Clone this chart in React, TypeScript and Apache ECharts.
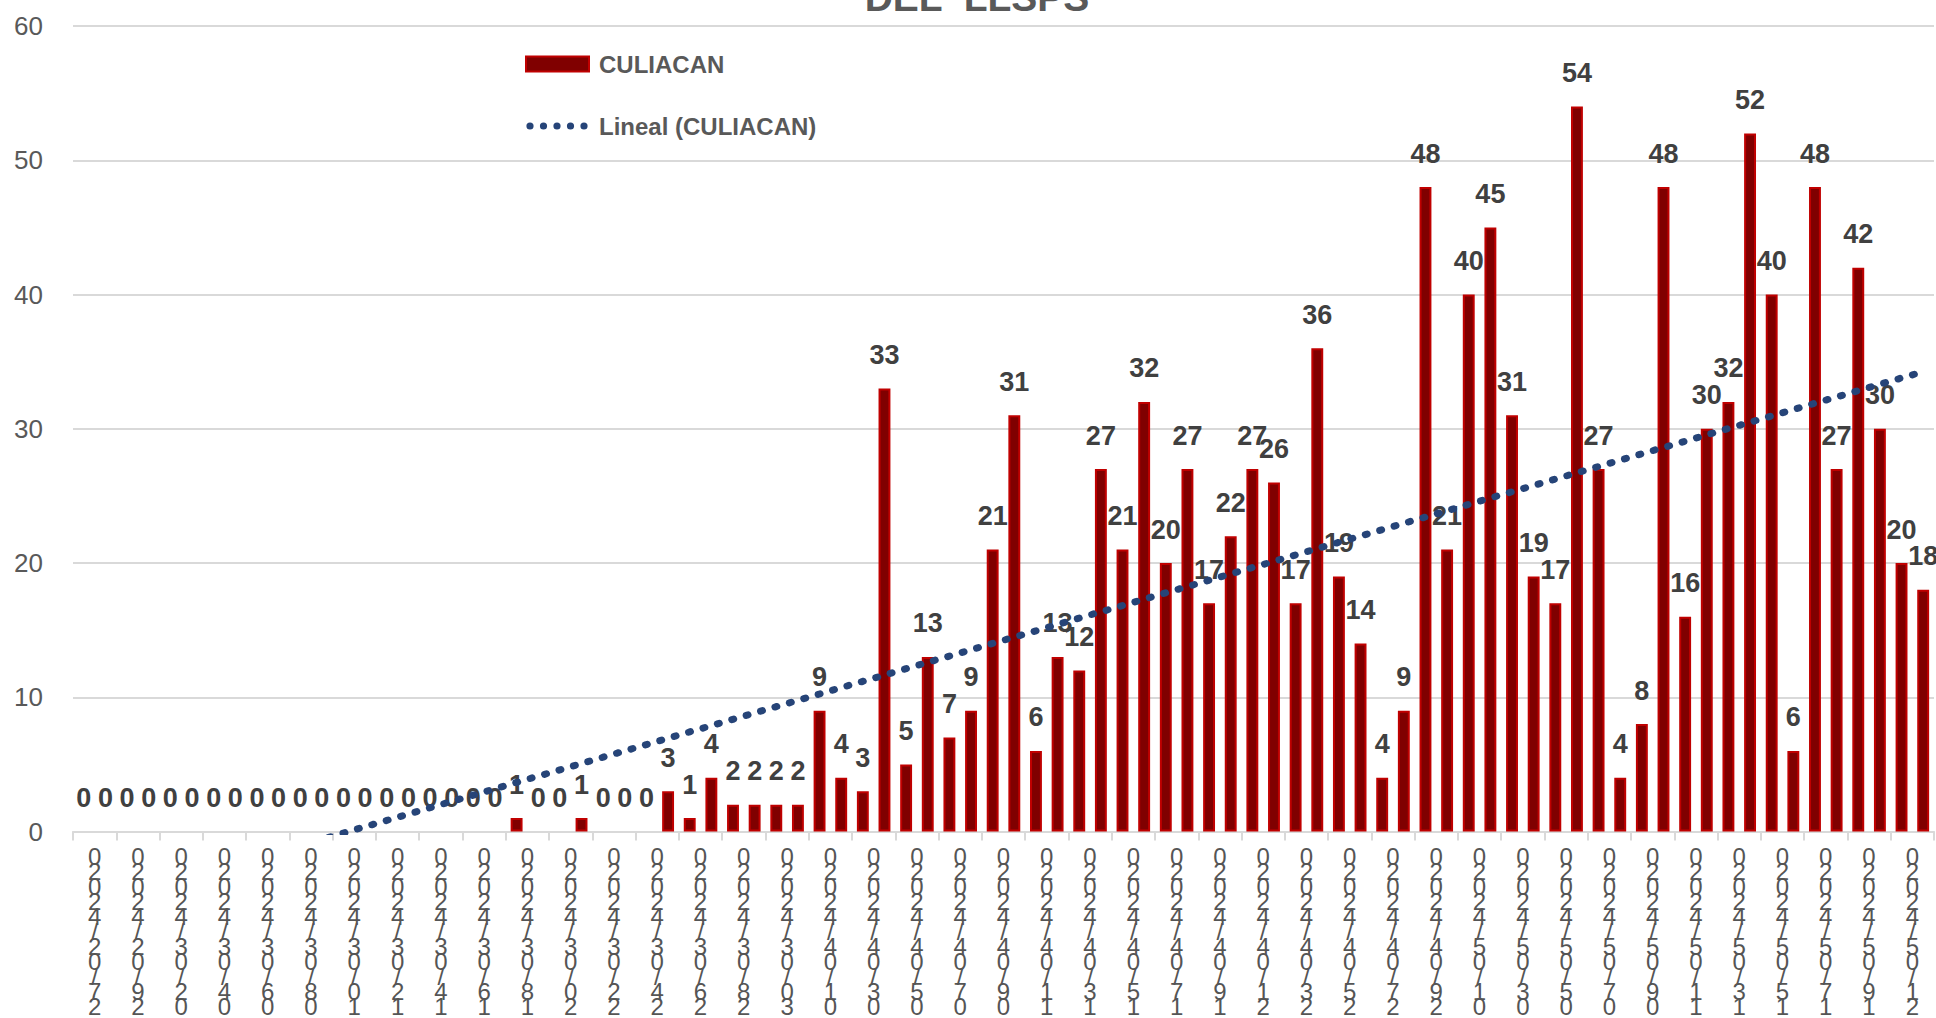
import { useEffect, useRef } from "react";
import * as echarts from "echarts";

const dates = [
  "27/02/2024", "28/02/2024", "29/02/2024",
  "01/03/2024", "02/03/2024", "03/03/2024", "04/03/2024", "05/03/2024", "06/03/2024", "07/03/2024", "08/03/2024",
  "09/03/2024", "10/03/2024", "11/03/2024", "12/03/2024", "13/03/2024", "14/03/2024", "15/03/2024", "16/03/2024",
  "17/03/2024", "18/03/2024", "19/03/2024", "20/03/2024", "21/03/2024", "22/03/2024", "23/03/2024", "24/03/2024",
  "25/03/2024", "26/03/2024", "27/03/2024", "28/03/2024", "29/03/2024", "30/03/2024", "31/03/2024",
  "01/04/2024", "02/04/2024", "03/04/2024", "04/04/2024", "05/04/2024", "06/04/2024", "07/04/2024", "08/04/2024",
  "09/04/2024", "10/04/2024", "11/04/2024", "12/04/2024", "13/04/2024", "14/04/2024", "15/04/2024", "16/04/2024",
  "17/04/2024", "18/04/2024", "19/04/2024", "20/04/2024", "21/04/2024", "22/04/2024", "23/04/2024", "24/04/2024",
  "25/04/2024", "26/04/2024", "27/04/2024", "28/04/2024", "29/04/2024", "30/04/2024",
  "01/05/2024", "02/05/2024", "03/05/2024", "04/05/2024", "05/05/2024", "06/05/2024", "07/05/2024", "08/05/2024",
  "09/05/2024", "10/05/2024", "11/05/2024", "12/05/2024", "13/05/2024", "14/05/2024", "15/05/2024", "16/05/2024",
  "17/05/2024", "18/05/2024", "19/05/2024", "20/05/2024", "21/05/2024", "22/05/2024",
];

const culiacan = [
  0, 0, 0, 0, 0, 0, 0, 0, 0, 0, 0, 0, 0, 0, 0, 0, 0, 0, 0, 0,
  1, 0, 0, 1, 0, 0, 0, 3, 1, 4, 2, 2, 2, 2, 9, 4, 3, 33, 5, 13,
  7, 9, 21, 31, 6, 13, 12, 27, 21, 32, 20, 27, 17, 22, 27, 26, 17, 36, 19, 14,
  4, 9, 48, 21, 40, 45, 31, 19, 17, 54, 27, 4, 8, 48, 16, 30, 32, 52, 40, 6,
  48, 27, 42, 30, 20, 18,
];

const seriesNames = ["CULIACAN", "Lineal (CULIACAN)"];
const titleText = "DEL  LLSPS";
const yMin = 0;
const yMax = 60;
const yInterval = 10;

// Excel-style linear trendline (least squares over x = 1..n)
function linearTrend(values: number[]): number[] {
  const n = values.length;
  let sx = 0, sy = 0;
  for (let i = 0; i < n; i++) { sx += i + 1; sy += values[i]; }
  const mx = sx / n, my = sy / n;
  let num = 0, den = 0;
  for (let i = 0; i < n; i++) {
    num += (i + 1 - mx) * (values[i] - my);
    den += (i + 1 - mx) * (i + 1 - mx);
  }
  const b = num / den;
  const a = my - b * mx;
  return values.map((_, i) => a + b * (i + 1));
}

function stackLabel(s: string): string {
  const [d, m, y] = s.split("/");
  const shown = "0" + y + "/" + m.split("").reverse().join("") + "/" + d.split("").reverse().join("");
  return shown.split("").join("\n");
}

// legend icon: five round dots in a 63 x 15 box
function dotsIcon(): string {
  const r = 3.6;
  let d = "M0 0 M63 15";
  for (let k = 0; k < 5; k++) {
    const cx = 4 + k * 13.5;
    d += ` M${cx - r} 7.5 a${r} ${r} 0 1 0 ${2 * r} 0 a${r} ${r} 0 1 0 ${-2 * r} 0 Z`;
  }
  return "path://" + d;
}

const FONT = "'Liberation Sans', Arial, sans-serif";
const BLUE = "#264478";

export default function App() {
  const ref = useRef<HTMLDivElement>(null);
  useEffect(() => {
    if (!ref.current) return;
    const chart = echarts.init(ref.current, null, { renderer: "svg" });
    const trend = linearTrend(culiacan);
    const barData = culiacan.map((v) =>
      v === 0
        ? { value: v, itemStyle: { color: "transparent", borderColor: "transparent", borderWidth: 0 } }
        : v
    );
    chart.setOption({
      animation: false,
      backgroundColor: "#ffffff",
      textStyle: { fontFamily: FONT },
      grid: { left: 73, right: 2, top: 26, bottom: 185, containLabel: false },
      graphic: [
        {
          type: "text",
          x: 977,
          y: -2.5,
          style: {
            text: titleText,
            fill: "#595959",
            font: `bold 39px ${FONT}`,
            align: "center",
            verticalAlign: "middle",
          },
        },
      ],
      legend: {
        orient: "vertical",
        left: 525,
        top: 52,
        padding: 0,
        itemWidth: 63,
        itemHeight: 15,
        itemGap: 38,
        data: [
          { name: seriesNames[0], icon: "rect" },
          { name: seriesNames[1], icon: dotsIcon(), itemStyle: { color: BLUE } },
        ],
        textStyle: {
          fontSize: 24,
          fontWeight: "bold",
          color: "#595959",
          fontFamily: FONT,
          padding: [0, 0, 0, 5],
        },
      },
      xAxis: {
        type: "category",
        data: dates,
        boundaryGap: true,
        axisLine: { lineStyle: { color: "#d9d9d9", width: 2 } },
        axisTick: { show: true, interval: 1, length: 9, lineStyle: { color: "#d9d9d9", width: 2 } },
        axisLabel: {
          interval: 1,
          formatter: (v: string) => stackLabel(v),
          fontSize: 24,
          lineHeight: 15,
          color: "#555555",
          margin: 17,
          padding: [0, 0, 0, 21.6],
          fontFamily: FONT,
        },
        splitLine: { show: false },
      },
      yAxis: {
        type: "value",
        min: yMin,
        max: yMax,
        interval: yInterval,
        axisLine: { show: false },
        axisTick: { show: false },
        axisLabel: { fontSize: 26, color: "#595959", margin: 30, fontFamily: FONT },
        splitLine: { lineStyle: { color: "#d9d9d9", width: 2 } },
      },
      series: [
        {
          name: seriesNames[0],
          type: "bar",
          data: barData,
          barWidth: "55%",
          itemStyle: { color: "#800000", borderColor: "#c00000", borderWidth: 2 },
          label: {
            show: true,
            position: "top",
            distance: 20,
            fontSize: 27,
            fontWeight: "bold",
            color: "#404040",
            fontFamily: FONT,
          },
          z: 2,
        },
        {
          name: seriesNames[1],
          type: "line",
          data: trend,
          symbol: "none",
          showSymbol: false,
          symbolKeepAspect: true,
          clip: true,
          lineStyle: { color: BLUE, width: 7, type: [2, 13], cap: "round" },
          itemStyle: { color: BLUE },
          z: 3,
        },
      ],
    });
    return () => chart.dispose();
  }, []);
  return (
    <div
      ref={ref}
      style={{ position: "fixed", left: 0, top: 0, width: 1936, height: 1018, background: "#fff" }}
    />
  );
}
